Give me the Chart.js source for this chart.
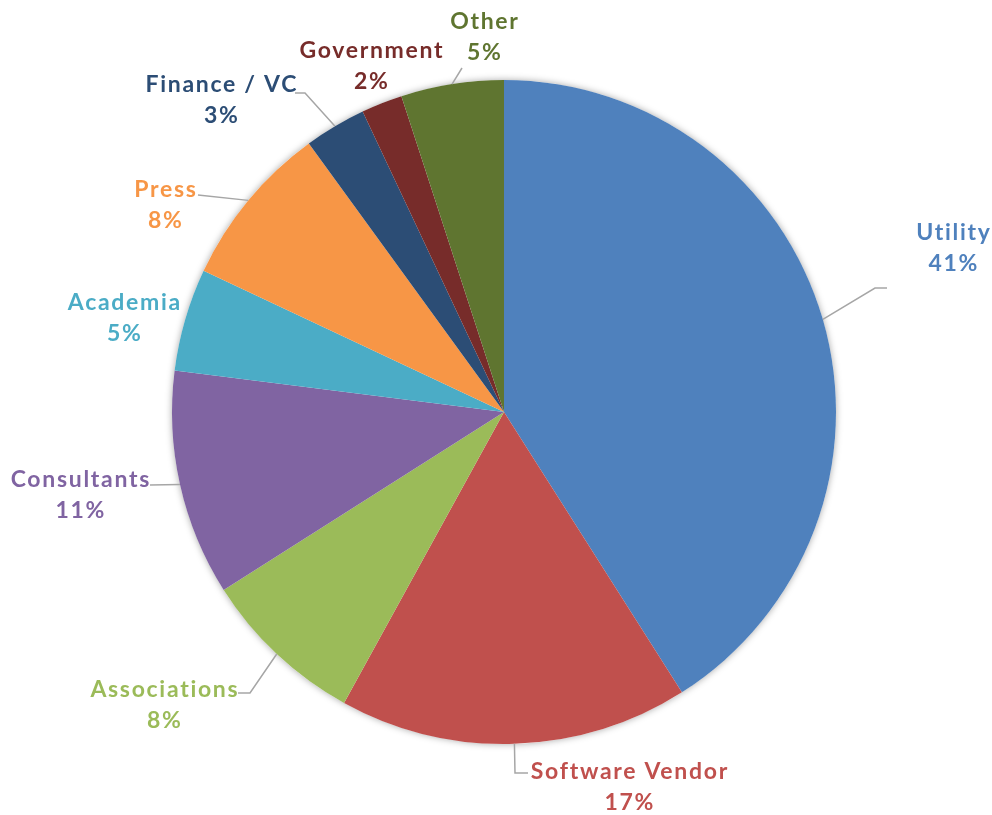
<!DOCTYPE html>
<html>

<head>
  <meta charset="UTF-8">
  <title>Audience</title>
  <style>
    body {
      margin: 0;
      background: #ffffff;
    }
  </style>
</head>

<script src="https://cdn.jsdelivr.net/npm/chart.js@4.4.0/dist/chart.umd.min.js"></script>

<body>

  <canvas id="pie" width="992" height="815"></canvas>

  <script>
    // data
    var categories = ["Utility", "Software Vendor", "Associations", "Consultants", "Academia", "Press", "Finance / VC", "Government", "Other"];
    var shares = [41, 17, 8, 11, 5, 8, 3, 2, 5];
    var sliceColors = ["#4F81BD", "#C0504D", "#9BBB59", "#8064A2", "#4BACC6", "#F79646", "#2C4D75", "#772C2A", "#5F7530"];

    // label layout, offsets from the pie centre: [labelX, labelY, elbow, end]
    var labelLayout = [
      { text: [449, -179], elbow: [371, -124], end: [383, -124] },
      { text: [125, 360], elbow: [11, 361], end: [24, 361] },
      { text: [-340, 278], elbow: [-254, 281], end: [-266, 281] },
      { text: [-424, 68], elbow: null, end: [-354, 73] },
      { text: [-380, -109], elbow: null, end: null },
      { text: [-339, -222], elbow: null, end: [-306, -217] },
      { text: [-283, -327], elbow: [-199, -319], end: [-209, -319] },
      { text: [-133, -361], elbow: null, end: null },
      { text: [-20, -390], elbow: null, end: [-42, -344] }
    ];

    var shadowPlugin = {
      id: "shadow",
      beforeDatasetsDraw: function (chart) {
        var arc = chart.getDatasetMeta(0).data[0];
        var ctx = chart.ctx;
        ctx.save();
        ctx.shadowColor = "rgba(0,0,0,0.35)";
        ctx.shadowBlur = 7;
        ctx.fillStyle = "#ffffff";
        ctx.beginPath();
        ctx.arc(arc.x, arc.y, arc.outerRadius, 0, Math.PI * 2);
        ctx.fill();
        ctx.restore();
      }
    };

    var labelPlugin = {
      id: "outLabels",
      afterDatasetsDraw: function (chart) {
        var ctx = chart.ctx;
        var arcs = chart.getDatasetMeta(0).data;
        var spacing = 1.7;
        ctx.save();
        for (var i = 0; i < arcs.length; i++) {
          var a = arcs[i];
          var cx = a.x, cy = a.y;
          var lay = labelLayout[i];
          var mid = (a.startAngle + a.endAngle) / 2;
          if (lay.end) {
            ctx.strokeStyle = "#A6A6A6";
            ctx.lineWidth = 1.5;
            ctx.beginPath();
            ctx.moveTo(cx + Math.cos(mid) * a.outerRadius, cy + Math.sin(mid) * a.outerRadius);
            if (lay.elbow) ctx.lineTo(cx + lay.elbow[0], cy + lay.elbow[1]);
            ctx.lineTo(cx + lay.end[0], cy + lay.end[1]);
            ctx.stroke();
          }
          ctx.fillStyle = sliceColors[i];
          ctx.font = "bold 23px Lato";
          ctx.letterSpacing = spacing + "px";
          ctx.textAlign = "center";
          ctx.textBaseline = "middle";
          // letterSpacing adds a trailing gap, shift back by half of it
          ctx.fillText(categories[i], cx + lay.text[0] + spacing / 2, cy + lay.text[1]);
          ctx.fillText(shares[i] + "%", cx + lay.text[0] + spacing / 2, cy + lay.text[1] + 31);
        }
        ctx.restore();
      }
    };

    new Chart("pie", {
      type: "pie",
      data: {
        labels: categories,
        datasets: [{
          data: shares,
          backgroundColor: sliceColors,
          borderWidth: 0
        }]
      },
      options: {
        responsive: false,
        animation: false,
        layout: { padding: { left: 172, right: 156, top: 80, bottom: 71 } },
        plugins: {
          legend: { display: false },
          tooltip: { enabled: false }
        }
      },
      plugins: [shadowPlugin, labelPlugin]
    });
  </script>

</body>

</html>
